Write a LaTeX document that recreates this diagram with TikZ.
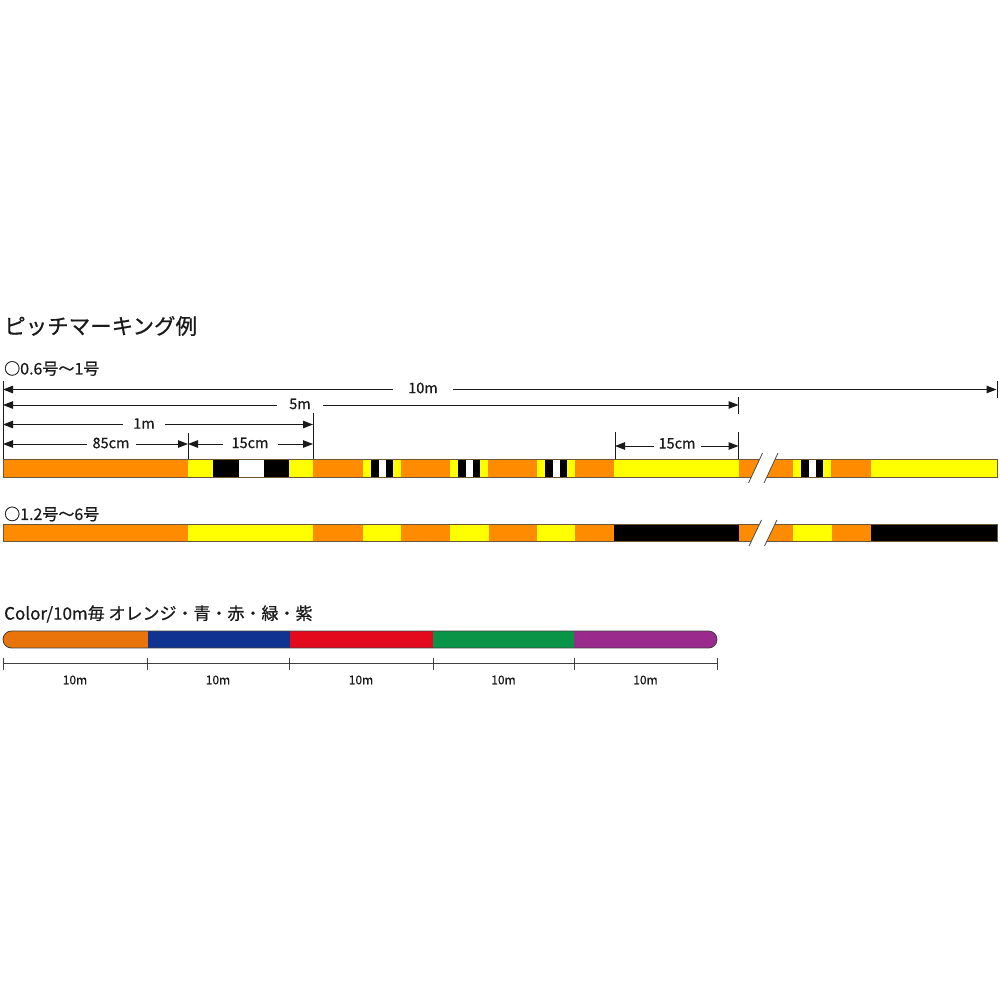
\documentclass[tikz,border=0pt]{standalone}
\usepackage{fontspec}
\setmainfont{Noto Sans CJK JP}[FakeBold=0.6]
\usetikzlibrary{arrows.meta}
\definecolor{rope}{HTML}{FF8C00}
\definecolor{ryel}{HTML}{FFFF00}
\definecolor{frame}{HTML}{6E5533}
\definecolor{cOr}{HTML}{E8740A}
\definecolor{cBl}{HTML}{103391}
\definecolor{cRd}{HTML}{E30A1E}
\definecolor{cGr}{HTML}{0A9447}
\definecolor{cPu}{HTML}{9A2A8C}
\definecolor{ink}{HTML}{1A1A1A}
\begin{document}
\begin{tikzpicture}[x=1pt,y=-1pt,
  dimline/.style={draw=ink, line width=1pt, {Triangle[length=10pt,width=7.5pt]}-{Triangle[length=10pt,width=7.5pt]}},
  tickline/.style={draw=ink, line width=1pt},
  dimlabel/.style={fill=white, font=\fontsize{14.5}{14.5}\selectfont, inner xsep=0pt, inner ysep=1pt, text=ink},
  heading/.style={anchor=west, inner sep=0pt, text=ink},
  barframe/.style={draw=frame, line width=0.8pt},
  slashline/.style={draw=black!70, line width=0.8pt},
  scalelabel/.style={font=\fontsize{12}{12}\selectfont, text=ink}]
\useasboundingbox[fill=white] (0,0) rectangle (1000,1000);

% headings
\node[heading, font=\fontsize{21.5}{21.5}\selectfont] (title) at (4,326) {ピッチマーキング例};
\node[heading, font=\fontsize{16}{16}\selectfont] (sub1) at (4,368.5) {○0.6号〜1号};
\node[heading, font=\fontsize{16}{16}\selectfont] (sub2) at (4,514) {○1.2号〜6号};
\node[heading, font=\fontsize{17}{17}\selectfont] (ctitle) at (4,614) {Color/10m毎 オレンジ・青・赤・緑・紫};

% ---------- bar 1 ----------
\fill[rope] (3,459) rectangle (997,477);
\fill[ryel] (188,459) rectangle (313,477);
\fill[black] (213,459) rectangle (238.5,477);
\fill[white] (238.5,459) rectangle (264,477);
\fill[black] (264,459) rectangle (288.5,477);
\foreach \m in {363,450,537,793}{
  \fill[ryel] (\m,459) rectangle ++(38,18);
  \fill[black] (\m+8,459) rectangle ++(7.5,18);
  \fill[white] (\m+15.5,459) rectangle ++(7.5,18);
  \fill[black] (\m+23,459) rectangle ++(7,18);
}
\fill[ryel] (614,459) rectangle (738.5,477);
\fill[ryel] (871,459) rectangle (997,477);
\draw[barframe] (3,459) rectangle (997,477);

% ---------- bar 2 ----------
\fill[rope] (3,524) rectangle (997,541);
\foreach \a/\b in {188/313,363/401,450/488.5,537/575,793/831.5}{
  \fill[ryel] (\a,524) rectangle (\b,541);
}
\fill[black] (614,524) rectangle (738.5,541);
\fill[black] (871,524) rectangle (997,541);
\draw[barframe] (3,524) rectangle (997,541);

% ---------- break marks ----------
\coordinate (s1a) at (748.5,483); \coordinate (s1b) at (762.5,453);
\coordinate (s1c) at (764,483);   \coordinate (s1d) at (778,453);
\fill[white] (s1a) -- (s1b) -- (s1d) -- (s1c) -- cycle;
\draw[slashline] (s1a) -- (s1b);
\draw[slashline] (s1c) -- (s1d);
\coordinate (s2a) at (749,546);   \coordinate (s2b) at (761.5,520);
\coordinate (s2c) at (764.5,546); \coordinate (s2d) at (777,520);
\fill[white] (s2a) -- (s2b) -- (s2d) -- (s2c) -- cycle;
\draw[slashline] (s2a) -- (s2b);
\draw[slashline] (s2c) -- (s2d);

% ---------- extension ticks ----------
\coordinate (tA1) at (3,381);     \coordinate (tA2) at (3,459);
\coordinate (tB1) at (997,381);   \coordinate (tB2) at (997,398);
\coordinate (tC1) at (738.5,397); \coordinate (tC2) at (738.5,414);
\coordinate (tD1) at (738.5,432); \coordinate (tD2) at (738.5,459);
\coordinate (tE1) at (313,413);   \coordinate (tE2) at (313,459);
\coordinate (tF1) at (188,433);   \coordinate (tF2) at (188,459);
\coordinate (tG1) at (615,432);   \coordinate (tG2) at (615,459);
\foreach \p in {A,B,C,D,E,F,G}{ \draw[tickline] (t\p1) -- (t\p2); }

% ---------- dimension lines ----------
\coordinate (d10L) at (3,389.5);  \coordinate (d10R) at (996.5,389.5);
\coordinate (d5L) at (3,405);     \coordinate (d5R) at (738.5,405);
\coordinate (d1L) at (3,424.5);   \coordinate (d1R) at (313,424.5);
\coordinate (d85L) at (3,444);    \coordinate (d85R) at (188,444);
\coordinate (d15L) at (188,444);  \coordinate (d15R) at (313,444);
\coordinate (e15L) at (615,446);  \coordinate (e15R) at (738.5,446);
\draw[dimline] (d10L) -- (d10R);
\draw[dimline] (d5L) -- (d5R);
\draw[dimline] (d1L) -- (d1R);
\draw[dimline] (d85L) -- (d85R);
\draw[dimline] (d15L) -- (d15R);
\draw[dimline] (e15L) -- (e15R);
\node[dimlabel, minimum width=60pt] (l10) at (423,388) {10m};
\node[dimlabel, minimum width=46pt] (l5) at (300,404) {5m};
\node[dimlabel, minimum width=42pt] (l1) at (144,423.5) {1m};
\node[dimlabel, minimum width=49pt] (l85) at (111,443) {85cm};
\node[dimlabel, minimum width=55pt] (l15) at (250,443) {15cm};
\node[dimlabel, minimum width=47pt] (r15) at (677,443.5) {15cm};

% ---------- colour bar ----------
\begin{scope}
  \clip[rounded corners=8.5pt] (3,631) rectangle (717,648);
  \fill[cOr] (0,631) rectangle (147.5,648);
  \fill[cBl] (147.5,631) rectangle (289.5,648);
  \fill[cRd] (289.5,631) rectangle (433,648);
  \fill[cGr] (433,631) rectangle (574,648);
  \fill[cPu] (574,631) rectangle (720,648);
\end{scope}
\draw[draw=black!75, line width=0.8pt, rounded corners=8.5pt] (3,631) rectangle (717,648);

% ---------- scale ----------
\coordinate (scL) at (3.5,663.5); \coordinate (scR) at (717,663.5);
\draw[draw=black!75, line width=1pt] (scL) -- (scR);
\foreach \x in {3.5,147,289,433,574,717}{
  \draw[draw=black!75, line width=1pt] (\x,657.5) -- (\x,669.5);
}
\node[scalelabel] (m1) at (75,680) {10m};
\node[scalelabel] (m2) at (218,680) {10m};
\node[scalelabel] (m3) at (361,680) {10m};
\node[scalelabel] (m4) at (503.5,680) {10m};
\node[scalelabel] (m5) at (645.5,680) {10m};
\end{tikzpicture}
\end{document}
